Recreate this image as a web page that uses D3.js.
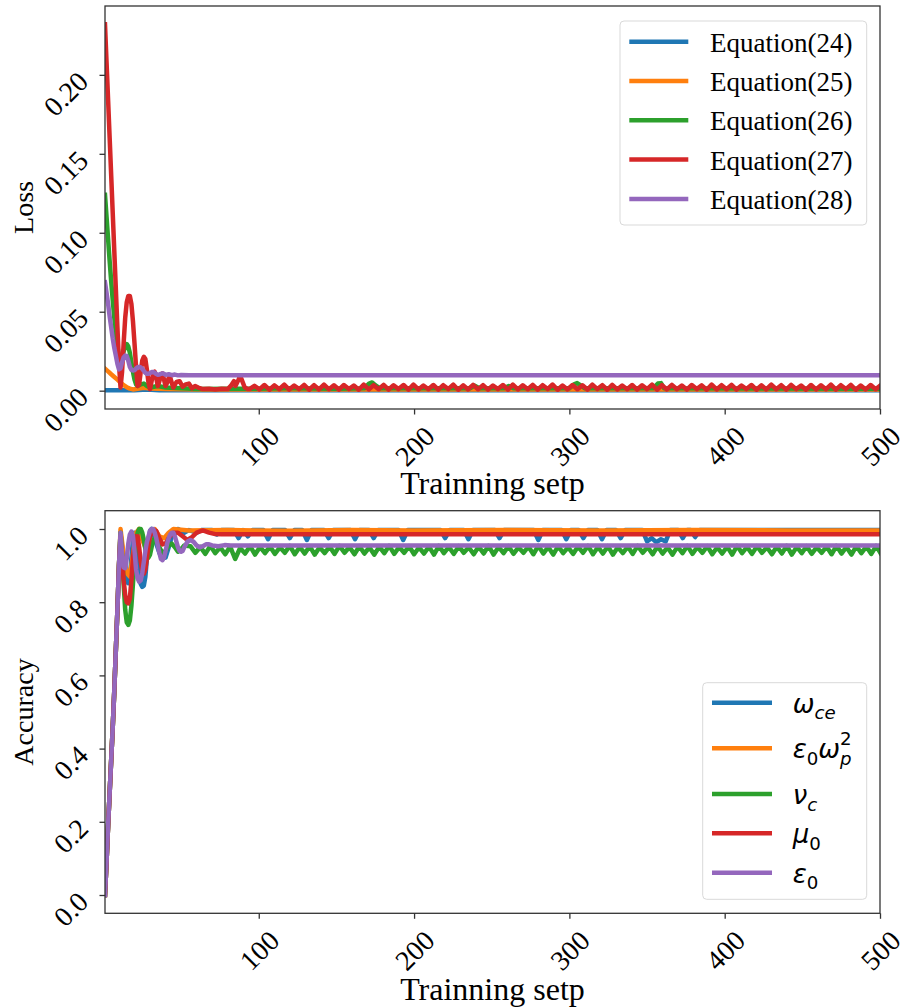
<!DOCTYPE html>
<html>
<head>
<meta charset="utf-8">
<script src="https://cdn.jsdelivr.net/npm/d3@7"></script>
<style>
body { margin: 0; background: #fff; }
svg text { font-family: "Liberation Serif", "Times New Roman", serif; fill: #000; }
svg text.math { font-family: "DejaVu Sans", sans-serif; }
</style>
</head>
<body>
<svg id="chart" width="901" height="1008"></svg>
<script>
// ---- data ----
var colors = ["#1f77b4", "#ff7f0e", "#2ca02c", "#d62728", "#9467bd"];
var lossNames = ["Equation(24)", "Equation(25)", "Equation(26)", "Equation(27)", "Equation(28)"];
var lossTicks = [0.00, 0.05, 0.10, 0.15, 0.20];
var accTicks = [0.0, 0.2, 0.4, 0.6, 0.8, 1.0];
var stepTicks = [100, 200, 300, 400, 500];

// loss curves, [step, value]
var lossEq24 = [[1, 0.0002], [20, 0.0003], [28, 0.0008], [36, 0.0003], [500, 0.0002]];
var lossEq25 = [[1, 0.0139], [3, 0.0122], [5, 0.0104], [7, 0.0087], [9, 0.0070], [11, 0.0052],
    [13, 0.0035], [15, 0.0022], [17, 0.0013], [19, 0.0008], [22, 0.0012], [26, 0.0018],
    [30, 0.0014], [40, 0.0010], [60, 0.0008], [500, 0.0008]];
var lossEq26 = [[1, 0.124], [2, 0.110], [3, 0.096], [4, 0.082], [5, 0.069], [6, 0.057], [7, 0.046],
    [8, 0.036], [9, 0.028], [10, 0.022], [11, 0.019], [12, 0.021], [13, 0.025], [14, 0.028],
    [15, 0.0295], [16, 0.028], [17, 0.024], [18, 0.018], [19, 0.012], [20, 0.007], [21, 0.004],
    [22, 0.003], [24, 0.004], [26, 0.0045], [28, 0.003], [30, 0.002], [35, 0.003], [40, 0.002],
    [50, 0.0015], [60, 0.0010], [80, 0.0012], [94, 0.0012], [120, 0.0015], [150, 0.0012],
    [168, 0.0015], [171, 0.0045], [173, 0.0052], [175, 0.0035], [178, 0.0015], [236, 0.0015],
    [239, 0.0032], [242, 0.0015], [258, 0.0015], [261, 0.0030], [264, 0.0015], [300, 0.0015],
    [303, 0.0040], [305, 0.0048], [307, 0.0035], [310, 0.0015], [354, 0.0015], [357, 0.0045],
    [359, 0.0048], [361, 0.0015], [500, 0.0012]];
var lossEq27 = [[1, 0.232], [2, 0.208], [3, 0.184], [4, 0.160], [5, 0.136], [6, 0.112], [7, 0.088],
    [8, 0.064], [9, 0.040], [10, 0.017], [11, 0.002], [12, 0.012], [13, 0.030], [14, 0.046],
    [15, 0.056], [16, 0.060], [17, 0.060], [18, 0.055], [19, 0.044], [20, 0.030], [21, 0.015],
    [22, 0.003], [23, 0.004], [24, 0.012], [25, 0.019], [26, 0.0215], [27, 0.020], [28, 0.013],
    [29, 0.005], [30, 0.001], [31, 0.006], [32, 0.011], [33, 0.012], [34, 0.008], [35, 0.003],
    [36, 0.006], [37, 0.010], [38, 0.011], [39, 0.007], [40, 0.003], [41, 0.005], [42, 0.008],
    [43, 0.0085], [44, 0.005], [45, 0.002], [47, 0.0055], [49, 0.006], [51, 0.0025], [53, 0.004],
    [55, 0.0045], [57, 0.0015], [59, 0.003], [61, 0.002], [64, 0.001], [68, 0.0012], [72, 0.0008],
    [76, 0.0012], [80, 0.001], [82, 0.003], [84, 0.006], [85, 0.003], [87, 0.007], [88, 0.0095],
    [89, 0.007], [91, 0.002], [93, 0.001]];
// ripple of Equation(27) after step 94, one value every 3.2 steps
var lossEq27Ripple = [0.0010, 0.0031, 0.0008, 0.0036, 0.0006, 0.0034, 0.0009, 0.0038, 0.0007, 0.0033,
    0.0010, 0.0037, 0.0006, 0.0035, 0.0008, 0.0039, 0.0009, 0.0034, 0.0007, 0.0036,
    0.0010, 0.0033, 0.0006, 0.0038, 0.0008, 0.0035, 0.0009, 0.0037, 0.0007, 0.0034,
    0.0010, 0.0036, 0.0006, 0.0039, 0.0008, 0.0033, 0.0009, 0.0036, 0.0007, 0.0035,
    0.0010, 0.0038, 0.0006, 0.0034, 0.0008, 0.0037, 0.0009, 0.0035, 0.0007, 0.0033,
    0.0010, 0.0036, 0.0006, 0.0038, 0.0008, 0.0034, 0.0009, 0.0037, 0.0007, 0.0035,
    0.0010, 0.0039, 0.0006, 0.0033, 0.0008, 0.0036, 0.0009, 0.0034, 0.0007, 0.0038,
    0.0010, 0.0035, 0.0006, 0.0037, 0.0008, 0.0033, 0.0009, 0.0036, 0.0007, 0.0034,
    0.0010, 0.0038, 0.0006, 0.0035, 0.0008, 0.0037, 0.0009, 0.0033, 0.0007, 0.0036,
    0.0010, 0.0034, 0.0006, 0.0039, 0.0008, 0.0035, 0.0009, 0.0037, 0.0007, 0.0033,
    0.0010, 0.0036, 0.0006, 0.0034, 0.0008, 0.0038, 0.0009, 0.0035, 0.0007, 0.0037,
    0.0010, 0.0033, 0.0006, 0.0036, 0.0008, 0.0034, 0.0009, 0.0038, 0.0007, 0.0035,
    0.0010, 0.0037, 0.0006, 0.0033, 0.0008, 0.0036, 0.0009, 0.0034, 0.0007, 0.0036];
var lossEq28 = [[1, 0.0686], [2, 0.062], [3, 0.055], [4, 0.047], [5, 0.040], [6, 0.033], [7, 0.027],
    [8, 0.022], [9, 0.017], [10, 0.0135], [11, 0.014], [12, 0.018], [13, 0.021], [14, 0.0222],
    [15, 0.022], [16, 0.019], [17, 0.015], [18, 0.0132], [19, 0.0128], [20, 0.013], [21, 0.014],
    [22, 0.0148], [23, 0.015], [24, 0.0147], [25, 0.0138], [26, 0.0125], [27, 0.0113], [28, 0.0107],
    [29, 0.0107], [30, 0.0112], [31, 0.0118], [32, 0.0118], [33, 0.0114], [34, 0.0106], [35, 0.0101],
    [36, 0.0102], [37, 0.0107], [38, 0.0110], [39, 0.0106], [40, 0.0100], [42, 0.0104], [44, 0.0098],
    [46, 0.0102], [48, 0.0097], [50, 0.0099], [55, 0.0097], [500, 0.0097]];

// accuracy curves, [step, value]
var accNames = [
    [{ t: "ω", it: 1 }, { t: "ce", it: 1, sub: 1 }],
    [{ t: "ε", it: 1 }, { t: "0", sub: 1 }, { t: "ω", it: 1 }, { t: "p", it: 1, sub: 1 }, { t: "2", sup: 1, back: 1 }],
    [{ t: "ν", it: 1 }, { t: "c", it: 1, sub: 1 }],
    [{ t: "μ", it: 1 }, { t: "0", sub: 1 }],
    [{ t: "ε", it: 1 }, { t: "0", sub: 1 }]
];
var accRise = [[1, 0.0], [2, 0.09], [3, 0.19], [4, 0.28], [5, 0.37], [6, 0.46], [7, 0.56], [8, 0.67], [9, 0.78], [10, 0.90]];
var accOmegaCe = [[11, 0.99], [12, 0.95], [13, 0.90], [14, 0.87], [15, 0.855], [16, 0.852], [17, 0.87],
    [18, 0.92], [19, 0.97], [20, 0.99], [21, 0.98], [22, 0.93], [23, 0.88], [24, 0.85], [25, 0.842],
    [26, 0.845], [27, 0.87], [28, 0.92], [29, 0.97], [30, 0.995], [31, 1.0], [32, 0.99], [34, 0.96],
    [36, 0.935], [38, 0.92], [40, 0.922], [42, 0.95], [44, 0.98], [46, 0.995], [48, 1.0], [50, 0.995],
    [52, 0.99], [55, 0.997], [60, 0.99], [63, 0.997], [70, 0.997], [73, 0.985], [76, 0.997],
    [84, 0.997], [87, 0.975], [90, 0.997], [93, 0.98], [96, 0.997], [103, 0.997], [106, 0.972],
    [109, 0.997], [117, 0.997], [120, 0.975], [123, 0.997], [128, 0.997], [131, 0.970], [134, 0.997],
    [142, 0.997], [145, 0.975], [148, 0.997], [159, 0.997], [162, 0.972], [165, 0.997], [171, 0.997],
    [174, 0.975], [177, 0.997], [190, 0.997], [193, 0.970], [196, 0.997], [217, 0.997], [220, 0.975],
    [223, 0.997], [232, 0.997], [235, 0.972], [238, 0.997], [252, 0.997], [255, 0.975], [258, 0.997],
    [277, 0.997], [280, 0.970], [283, 0.997], [295, 0.997], [298, 0.972], [301, 0.997], [306, 0.997],
    [309, 0.975], [312, 0.997], [318, 0.997], [321, 0.972], [324, 0.997], [330, 0.997], [333, 0.975],
    [336, 0.997], [347, 0.997], [350, 0.966], [353, 0.975], [356, 0.964], [359, 0.972], [362, 0.966],
    [365, 0.997], [370, 0.997], [373, 0.975], [376, 0.997], [378, 0.997], [381, 0.978], [384, 0.997],
    [500, 0.997]];
var accEpsOmegaP = [[11, 1.0], [13, 0.93], [15, 0.88], [17, 0.87], [19, 0.93], [21, 0.99], [23, 1.0],
    [25, 0.97], [27, 0.95], [29, 0.97], [31, 0.995], [33, 1.0], [36, 0.98], [39, 0.975], [42, 0.99],
    [45, 1.0], [50, 0.998], [55, 0.996], [80, 0.997], [120, 0.995], [160, 0.997], [200, 0.996],
    [260, 0.997], [320, 0.996], [380, 0.997], [440, 0.996], [500, 0.996]];
var accNuC = [[11, 0.99], [12, 0.93], [13, 0.85], [14, 0.78], [15, 0.745], [16, 0.738], [17, 0.75],
    [18, 0.79], [19, 0.85], [20, 0.91], [21, 0.96], [22, 0.99], [23, 1.0], [24, 1.0], [25, 0.99],
    [26, 0.97], [27, 0.945], [28, 0.928], [29, 0.922], [30, 0.93], [31, 0.95], [32, 0.968], [33, 0.975],
    [34, 0.97], [36, 0.95], [38, 0.935], [40, 0.94], [42, 0.955], [44, 0.96], [46, 0.95], [48, 0.938],
    [50, 0.945], [52, 0.955]];
// ripple of nu_c after step 56, one value every 3.2 steps
var accNuCRipple = [0.953, 0.935, 0.951, 0.932, 0.954, 0.934, 0.950, 0.931, 0.952, 0.918,
    0.948, 0.933, 0.953, 0.930, 0.951, 0.934, 0.952, 0.932, 0.950, 0.935, 0.954, 0.931, 0.951, 0.933,
    0.953, 0.930, 0.950, 0.934, 0.952, 0.932, 0.954, 0.935, 0.951, 0.931, 0.953, 0.933, 0.950, 0.930,
    0.952, 0.934, 0.954, 0.932, 0.951, 0.935, 0.953, 0.931, 0.950, 0.933, 0.952, 0.930, 0.954, 0.934,
    0.951, 0.932, 0.953, 0.935, 0.950, 0.931, 0.952, 0.933, 0.954, 0.930, 0.951, 0.934, 0.953, 0.932,
    0.950, 0.935, 0.952, 0.931, 0.954, 0.933, 0.951, 0.930, 0.953, 0.934, 0.950, 0.932, 0.952, 0.935,
    0.954, 0.931, 0.951, 0.933, 0.953, 0.930, 0.950, 0.934, 0.952, 0.932, 0.954, 0.935, 0.951, 0.931,
    0.953, 0.933, 0.950, 0.930, 0.952, 0.934, 0.954, 0.932, 0.951, 0.935, 0.953, 0.931, 0.950, 0.933,
    0.952, 0.930, 0.954, 0.934, 0.951, 0.932, 0.953, 0.935, 0.950, 0.931, 0.952, 0.933, 0.954, 0.930,
    0.951, 0.934, 0.953, 0.932, 0.950, 0.935, 0.952, 0.931, 0.954, 0.933, 0.951, 0.930, 0.953, 0.934,
    0.952, 0.932, 0.954, 0.931, 0.951, 0.933, 0.953, 0.930];
var accMu0 = [[11, 0.98], [12, 0.92], [13, 0.86], [14, 0.82], [15, 0.80], [16, 0.797], [17, 0.81],
    [18, 0.86], [19, 0.92], [20, 0.96], [21, 0.98], [22, 0.98], [23, 0.95], [24, 0.91], [25, 0.885],
    [26, 0.878], [27, 0.89], [28, 0.92], [29, 0.955], [30, 0.98], [32, 0.998], [34, 0.995], [36, 0.975],
    [38, 0.958], [40, 0.96], [42, 0.975], [45, 0.99], [48, 0.99], [51, 0.98], [54, 0.97], [57, 0.978],
    [60, 0.99], [64, 0.996], [68, 0.99], [72, 0.986], [76, 0.9855], [500, 0.9855]];
var accEps0 = [[11, 0.99], [12, 0.93], [13, 0.895], [14, 0.893], [15, 0.92], [16, 0.96], [17, 0.985],
    [18, 0.993], [19, 0.98], [20, 0.94], [21, 0.89], [22, 0.865], [23, 0.856], [24, 0.86], [25, 0.88],
    [26, 0.91], [27, 0.94], [28, 0.965], [29, 0.98], [30, 0.995], [31, 1.0], [32, 1.0], [33, 0.99],
    [34, 0.975], [35, 0.955], [36, 0.935], [37, 0.918], [38, 0.915], [39, 0.922], [40, 0.94],
    [41, 0.96], [42, 0.975], [43, 0.985], [44, 0.99], [45, 0.99], [46, 0.98], [47, 0.965], [48, 0.95],
    [49, 0.94], [50, 0.938], [51, 0.94], [52, 0.95], [54, 0.965], [56, 0.97], [58, 0.965], [60, 0.955],
    [62, 0.95], [64, 0.953], [66, 0.958], [68, 0.958], [70, 0.955], [74, 0.953], [78, 0.956],
    [82, 0.955], [500, 0.955]];

// ---- layout ----
var left = 105, right = 880;
var panels = {
    loss: { top: 6, bottom: 409, xLabelY: 483 },
    acc: { top: 510.7, bottom: 913.3, xLabelY: 989 }
};
var serif = "Liberation Serif, Times New Roman, serif";
var legendFont = 27, yLabelFont = 28, xLabelFont = 32, tickFont = 28, lineW = 4.5;

var svg = d3.select("#chart");
var xScale = d3.scaleLinear().domain([1, 500]).range([left, right]);

function rippleSeries(start, gap, values) {
    return values.map(function(v, i) { return [start + i * gap, v]; });
}

var lossSeries = [lossEq24, lossEq25, lossEq26, lossEq27.concat(rippleSeries(94, 3.2, lossEq27Ripple)), lossEq28];
var accSeries = [
    accRise.concat(accOmegaCe),
    accRise.concat(accEpsOmegaP),
    accRise.concat(accNuC, rippleSeries(56, 3.2, accNuCRipple)),
    accRise.concat(accMu0),
    accRise.concat(accEps0)
];

function drawPanel(id, p, yScale, yTicks, yFmt, series, yLabel) {
    var g = svg.append("g");
    g.append("clipPath").attr("id", "clip-" + id)
        .append("rect")
        .attr("x", left).attr("y", p.top)
        .attr("width", right - left).attr("height", p.bottom - p.top);

    var line = d3.line()
        .x(function(d) { return xScale(d[0]); })
        .y(function(d) { return yScale(d[1]); });

    var lines = g.append("g").attr("clip-path", "url(#clip-" + id + ")");
    series.forEach(function(s, i) {
        lines.append("path")
            .datum(s)
            .attr("d", line)
            .attr("fill", "none")
            .attr("stroke", colors[i])
            .attr("stroke-width", lineW)
            .attr("stroke-linejoin", "round")
            .attr("stroke-linecap", "square");
    });

    // frame
    g.append("rect")
        .attr("x", left).attr("y", p.top)
        .attr("width", right - left).attr("height", p.bottom - p.top)
        .attr("fill", "none").attr("stroke", "#333").attr("stroke-width", 1.3);

    var xAxis = d3.axisBottom(xScale).tickValues(stepTicks).tickSize(5.5).tickFormat(d3.format("d"));
    g.append("g")
        .attr("transform", "translate(0," + p.bottom + ")")
        .attr("font-family", serif)
        .call(xAxis)
        .call(function(a) { a.select(".domain").remove(); })
        .call(function(a) {
            a.selectAll("line").attr("stroke", "#333").attr("stroke-width", 1.3);
            a.selectAll("text")
                .attr("y", 0).attr("dy", "0.35em")
                .attr("text-anchor", "middle")
                .attr("transform", "translate(0,37) rotate(-45)")
                .style("font-family", serif)
                .style("font-size", tickFont + "px")
                .attr("fill", "#000");
        });

    var yAxis = d3.axisLeft(yScale).tickValues(yTicks).tickSize(5.5).tickFormat(d3.format(yFmt));
    g.append("g")
        .attr("transform", "translate(" + left + ",0)")
        .attr("font-family", serif)
        .call(yAxis)
        .call(function(a) { a.select(".domain").remove(); })
        .call(function(a) {
            a.selectAll("line").attr("stroke", "#333").attr("stroke-width", 1.3);
            a.selectAll("text")
                .attr("x", 0).attr("dy", 0)
                .attr("text-anchor", "end")
                .attr("transform", "translate(-15,8) rotate(-45)")
                .style("font-family", serif)
                .style("font-size", tickFont + "px")
                .attr("fill", "#000");
        });

    g.append("text")
        .attr("transform", "translate(23," + ((p.top + p.bottom) / 2) + ") rotate(-90)")
        .attr("text-anchor", "middle")
        .attr("dominant-baseline", "central")
        .style("font-size", yLabelFont + "px")
        .text(yLabel);

    g.append("text")
        .attr("x", (left + right) / 2).attr("y", p.xLabelY)
        .attr("text-anchor", "middle").attr("dominant-baseline", "central")
        .style("font-size", xLabelFont + "px")
        .text("Trainning setp");
    return g;
}

var yLoss = d3.scaleLinear().domain([-0.0116, 0.2436]).range([panels.loss.bottom, panels.loss.top]);
var yAcc = d3.scaleLinear().domain([-0.05, 1.05]).range([panels.acc.bottom, panels.acc.top]);

drawPanel("loss", panels.loss, yLoss, lossTicks, ".2f", lossSeries, "Loss");
drawPanel("acc", panels.acc, yAcc, accTicks, ".1f", accSeries, "Accuracy");

// legend: loss
var lg1 = svg.append("g");
lg1.append("rect").attr("x", 620).attr("y", 21).attr("width", 246.7).attr("height", 204)
    .attr("rx", 4).attr("fill", "#fff").attr("fill-opacity", 0.8)
    .attr("stroke", "#d9d9d9").attr("stroke-width", 1);
lossNames.forEach(function(name, i) {
    var y = 41.7 + i * 39.3;
    lg1.append("line").attr("x1", 629.3).attr("x2", 688.3).attr("y1", y).attr("y2", y)
        .attr("stroke", colors[i]).attr("stroke-width", lineW);
    lg1.append("text").attr("x", 710).attr("y", y + 10)
        .style("font-size", legendFont + "px").text(name);
});

// legend: accuracy (math labels)
var lg2 = svg.append("g");
lg2.append("rect").attr("x", 702.7).attr("y", 682.7).attr("width", 164).attr("height", 216.6)
    .attr("rx", 4).attr("fill", "#fff").attr("fill-opacity", 0.8)
    .attr("stroke", "#d9d9d9").attr("stroke-width", 1);
var accRows = [702.7, 748.3, 794, 833.3, 872.7];
var mfs = 26;
accNames.forEach(function(parts, i) {
    var y = accRows[i];
    lg2.append("line").attr("x1", 712).attr("x2", 772).attr("y1", y).attr("y2", y)
        .attr("stroke", colors[i]).attr("stroke-width", lineW);
    var t = lg2.append("text").attr("class", "math").attr("x", 792.7).attr("y", y + 10)
        .style("font-size", mfs + "px");
    var cur = 0, lastSub = null;
    parts.forEach(function(p) {
        var ts = t.append("tspan").text(p.t);
        if (p.it) ts.attr("font-style", "italic");
        var target = 0;
        if (p.sub) { target = 0.26 * mfs; ts.style("font-size", (0.7 * mfs) + "px"); }
        if (p.sup) { target = -0.5 * mfs; ts.style("font-size", (0.7 * mfs) + "px"); }
        if (target !== cur) ts.attr("dy", target - cur);
        cur = target;
        if (p.back && lastSub) ts.attr("dx", -lastSub.node().getComputedTextLength());
        lastSub = p.sub ? ts : null;
    });
});
</script>
</body>
</html>
